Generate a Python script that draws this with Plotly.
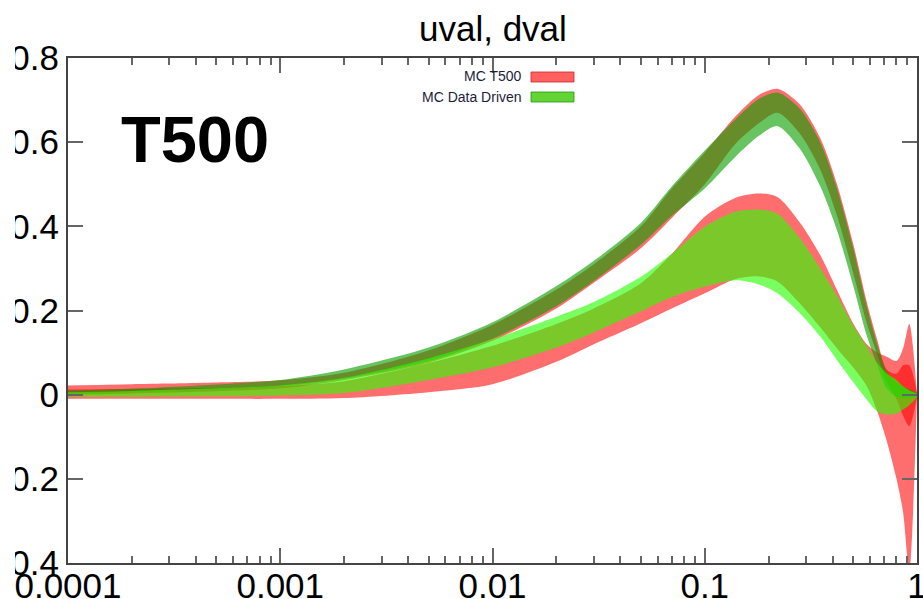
import plotly.graph_objects as go

# ---------------- data ----------------
X_VALS = [1e-4, 2e-4, 5e-4, 1e-3, 2e-3, 5e-3, 0.01, 0.02, 0.03, 0.05, 0.07, 0.1,
          0.14, 0.18, 0.22, 0.28, 0.35, 0.42, 0.5, 0.58, 0.65, 0.72, 0.8, 0.86, 0.92, 1.0]

UVAL_T500_UP = [0.022, 0.025, 0.029, 0.034, 0.052, 0.105, 0.166, 0.250, 0.310, 0.400, 0.490, 0.575,
                0.662, 0.712, 0.727, 0.690, 0.610, 0.500, 0.360, 0.220, 0.130, 0.060, 0.050, 0.070, 0.070, 0.004]
UVAL_T500_LO = [0.000, 0.003, 0.008, 0.015, 0.035, 0.076, 0.128, 0.205, 0.266, 0.348, 0.420, 0.500,
                0.597, 0.645, 0.670, 0.621, 0.535, 0.425, 0.290, 0.170, 0.095, 0.030, -0.010, -0.050, -0.075, -0.004]
UVAL_DD_UP = [0.010, 0.014, 0.024, 0.035, 0.060, 0.112, 0.172, 0.258, 0.318, 0.408, 0.495, 0.580,
              0.655, 0.703, 0.718, 0.680, 0.600, 0.490, 0.350, 0.210, 0.120, 0.055, 0.030, 0.018, 0.012, 0.003]
UVAL_DD_LO = [0.003, 0.006, 0.012, 0.020, 0.038, 0.080, 0.133, 0.210, 0.270, 0.356, 0.425, 0.490,
              0.566, 0.615, 0.638, 0.585, 0.495, 0.390, 0.260, 0.140, 0.070, 0.015, -0.005, -0.008, -0.008, -0.003]

DVAL_T500_UP = [0.012, 0.014, 0.016, 0.020, 0.032, 0.075, 0.116, 0.168, 0.205, 0.265, 0.335, 0.423,
                0.468, 0.478, 0.470, 0.410, 0.332, 0.249, 0.170, 0.120, 0.100, 0.090, 0.080, 0.110, 0.168, 0.005]
DVAL_T500_LO = [-0.010, -0.010, -0.010, -0.010, -0.008, 0.006, 0.025, 0.078, 0.120, 0.170, 0.205, 0.241,
                0.275, 0.281, 0.269, 0.217, 0.160, 0.110, 0.065, 0.020, -0.040, -0.110, -0.200, -0.280, -0.420, -0.005]
DVAL_DD_UP = [0.006, 0.009, 0.015, 0.022, 0.040, 0.086, 0.132, 0.185, 0.220, 0.280, 0.335, 0.399,
              0.435, 0.440, 0.430, 0.372, 0.300, 0.235, 0.165, 0.115, 0.075, 0.050, 0.035, 0.020, 0.010, 0.002]
DVAL_DD_LO = [-0.005, -0.005, -0.004, -0.002, 0.004, 0.035, 0.065, 0.112, 0.148, 0.198, 0.232, 0.257,
              0.272, 0.262, 0.241, 0.194, 0.138, 0.082, 0.030, -0.012, -0.040, -0.047, -0.045, -0.035, -0.025, -0.005]

X_TICKS = [1e-4, 1e-3, 1e-2, 1e-1, 1]
X_TICK_TEXT = ["0.0001", "0.001", "0.01", "0.1", "1"]
Y_TICKS = [-0.4, -0.2, 0, 0.2, 0.4, 0.6, 0.8]
Y_TICK_TEXT = ["-0.4", "-0.2", "0", "0.2", "0.4", "0.6", "0.8"]
LEGEND_LABELS = ["MC T500", "MC Data Driven"]
TITLE = "uval, dval"
TAG = "T500"

RED = "rgba(255,0,0,0.57)"
GREEN_U = "rgba(10,160,0,0.62)"
GREEN_D = "rgba(40,255,0,0.62)"

FONT = "Liberation Sans, Arial, Helvetica, sans-serif"


def band(lo, up, color, name):
    return go.Scatter(
        x=X_VALS + X_VALS[::-1],
        y=up + lo[::-1],
        fill="toself",
        fillcolor=color,
        mode="lines",
        line=dict(width=0, shape="spline", smoothing=0.8),
        name=name,
        showlegend=False,
        hoverinfo="skip",
    )


fig = go.Figure()
fig.add_trace(band(UVAL_T500_LO, UVAL_T500_UP, RED, "MC T500 uval"))
fig.add_trace(band(DVAL_T500_LO, DVAL_T500_UP, RED, "MC T500 dval"))
fig.add_trace(band(UVAL_DD_LO, UVAL_DD_UP, GREEN_U, "MC Data Driven uval"))
fig.add_trace(band(DVAL_DD_LO, DVAL_DD_UP, GREEN_D, "MC Data Driven dval"))

minor_vals = [m * 10 ** e for e in range(-4, 0) for m in range(2, 10)]

axis_common = dict(
    showline=True, linecolor="#444", linewidth=2, mirror="allticks",
    ticks="inside", tickcolor="#666", tickwidth=1.5, ticklen=15,
    showgrid=False, zeroline=False, automargin=False,
    ticklabeloverflow="allow",
    tickfont=dict(family=FONT, size=35, color="black"),
)

fig.update_xaxes(
    type="log", range=[-4, 0],
    tickvals=X_TICKS, ticktext=X_TICK_TEXT,
    ticklabelstandoff=-9,
    minor=dict(tickvals=minor_vals, ticks="inside", ticklen=7, tickcolor="#666", tickwidth=1.5, showgrid=False),
    **axis_common,
)
fig.update_yaxes(
    range=[-0.4, 0.8],
    tickvals=Y_TICKS, ticktext=Y_TICK_TEXT,
    **axis_common,
)

# plot area: x 68..917, y 58..563
W, H = 923, 599
L, R, T, B = 68, 6, 58, 36
pw = W - L - R
ph = H - T - B


def px(xp):
    return (xp - L) / pw


def py(yp):
    return (H - B - yp) / ph


annotations = [
    dict(text=TITLE, x=0.5, y=py(29), xref="paper", yref="paper",
         xanchor="center", yanchor="middle", showarrow=False,
         font=dict(family=FONT, size=35, color="black")),
    dict(text="<b>" + TAG + "</b>", x=px(195), y=py(139), xref="paper", yref="paper",
         xanchor="center", yanchor="middle", showarrow=False,
         font=dict(family=FONT, size=65, color="black")),
    dict(text=LEGEND_LABELS[0], x=px(524), y=py(76), xref="paper", yref="paper",
         xanchor="right", yanchor="middle", showarrow=False,
         font=dict(family=FONT, size=14, color="#1c1c3c")),
    dict(text=LEGEND_LABELS[1], x=px(524), y=py(97), xref="paper", yref="paper",
         xanchor="right", yanchor="middle", showarrow=False,
         font=dict(family=FONT, size=14, color="#1c1c3c")),
]

shapes = [
    dict(type="rect", xref="paper", yref="paper", x0=px(531), x1=px(574), y0=py(82), y1=py(72),
         fillcolor="rgba(255,80,80,0.9)", line=dict(color="rgba(200,40,40,0.8)", width=1)),
    dict(type="rect", xref="paper", yref="paper", x0=px(531), x1=px(574), y0=py(102), y1=py(92),
         fillcolor="rgba(90,210,40,0.95)", line=dict(color="rgba(40,150,20,0.8)", width=1)),
    # white strip at the far left (the reference image is cropped there)
    dict(type="rect", xref="paper", yref="paper", x0=px(-5), x1=px(15), y0=py(H + 5), y1=py(-5),
         fillcolor="white", line=dict(width=0), layer="above"),
]

fig.update_layout(
    width=W, height=H,
    margin=dict(l=L, r=R, t=T, b=B, pad=0),
    paper_bgcolor="white", plot_bgcolor="white",
    showlegend=False,
    annotations=annotations,
    shapes=shapes,
    font=dict(family=FONT),
)

fig.write_html("out.html")
